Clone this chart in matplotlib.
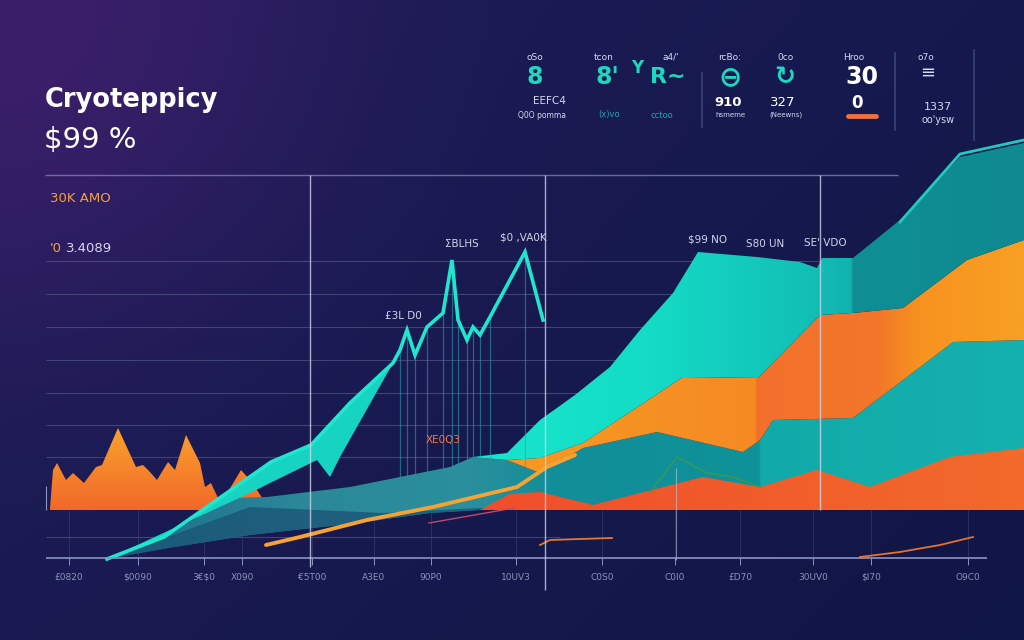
import numpy as np
import matplotlib
matplotlib.use("Agg")
import matplotlib.pyplot as plt
from matplotlib.patches import Polygon
from matplotlib.colors import LinearSegmentedColormap, to_rgb

plt.rcParams["font.family"] = ["DejaVu Sans"]

# x = trading day (0..102.4), y = price level (k$); baseline at 0
# left orange spike series
SPIKE_X = [5.0, 5.3, 5.7, 6.6, 7.3, 8.4, 9.6, 10.2, 11.8, 13.6, 14.3, 15.0, 15.7,
           16.8, 17.5, 18.6, 20.0, 20.5, 21.1, 21.8, 22.3, 22.9, 24.1, 25.0, 25.7, 27.0]
SPIKE_Y = [0.5, 10, 11.75, 7.5, 9.25, 6.75, 10.75, 11.25, 20.5, 10.75, 11.25, 9.5, 7.5,
           12, 10, 18.75, 11.75, 5.75, 6.75, 3, 0.5, 5, 10, 7.5, 5, 0]

# bright teal wedge (left)
WEDGE_TOP_X = [10.7, 16.4, 27.1, 31.1, 35.0, 39.3]
WEDGE_TOP_Y = [-12.25, -6.75, 12, 16.25, 26.75, 36.75]
WEDGE_BOT_X = [10.7, 25.0, 27.0, 31.7, 33.0, 34.0, 39.3]
WEDGE_BOT_Y = [-12.25, 4.25, 6.75, 12.5, 8.25, 13.25, 36.75]

# spiky price line
LINE_X = [39.3, 40.0, 40.7, 41.5, 42.7, 44.3, 45.2, 45.8, 46.7, 47.3, 48.0, 49.0, 52.5, 54.3]
LINE_Y = [36.75, 40, 45, 38.75, 45.75, 49.25, 62.5, 47.5, 42.5, 45.75, 43.75, 48.25, 64.5, 47.5]

# middle teal band
MID_TOP_X = [10.7, 16.4, 22.9, 26.7, 35.0, 45.0, 47.3, 50.7, 54.0, 58.3, 65.7, 74.3, 76.0, 77.3, 85.3, 95.3, 102.4]
MID_TOP_Y = [-12.25, -6.75, 3, 3.25, 5.75, 10.75, 13.25, 12.5, 9.25, 15.5, 19.5, 14.5, 17.5, 22.5, 23, 42, 42.5]
MID_BOT_X = [10.7, 16.8, 25.0, 35.7, 43.0, 48.0, 102.4]
MID_BOT_Y = [-12.25, -9.5, -6.25, -3.25, -0.75, 0, 0]
SHADE_X = [10.7, 25.0, 38.3, 48.0, 52.0]
SHADE_Y = [-12.25, 0.75, -0.75, 0.5, 0]

# orange layer top
ORANGE_TOP_X = [50.7, 54.0, 58.3, 68.3, 75.8, 82.0, 85.3, 90.3, 96.7, 102.4]
ORANGE_TOP_Y = [12.5, 13, 16.75, 33.25, 33, 48.75, 49.25, 50.5, 62.5, 67.5]

# teal mountain top
TOP_X = [47.3, 50.7, 54.0, 57.5, 61.0, 64.0, 67.3, 69.8, 75.7, 80.0, 81.7, 82.2, 85.3, 90.0, 96.0, 102.4]
TOP_Y = [13.25, 14.25, 22.5, 28.75, 35.75, 45, 54.25, 64.5, 63.25, 62, 60.5, 63, 63, 72.5, 88.25, 91.75]

# red bottom layer
RED_X = [48.0, 51.0, 54.0, 59.3, 70.3, 76.0, 81.7, 87.0, 95.0, 102.4]
RED_Y = [0, 4, 4.5, 1.25, 8.25, 5.75, 10, 5.75, 13.25, 15.5]

# lower trend lines
TREND_X = [26.6, 30.0, 36.7, 43.3, 51.7, 54.7, 57.5]
TREND_Y = [-8.75, -6.75, -2.5, 0.75, 5.75, 10.75, 13.75]
PINK_X = [42.9, 51.4]
PINK_Y = [-3.25, 0.5]
LOW1_X = [54.0, 55.0, 58.0, 61.2]
LOW1_Y = [-8.75, -7.5, -7.25, -7.0]
LOW2_X = [86.0, 90.0, 94.0, 97.3]
LOW2_Y = [-11.75, -10.5, -8.75, -6.75]
GREEN_X = [65.0, 67.7, 70.7, 73.3, 76.0]
GREEN_Y = [4.5, 13.25, 9.25, 8.25, 5.75]
EDGE_X = [90.0, 96.0, 102.4]
EDGE_Y = [72.0, 89.0, 92.5]

GRID_LEVELS = [13.25, 21.25, 29.25, 37.5, 45.75, 54, 62.25]
TICK_X = [6.9, 13.8, 20.4, 24.2, 31.2, 37.4, 43.1, 51.6, 60.2, 67.5, 74.0, 81.3, 87.1, 96.8]
TICK_LABELS = ["£0820", "$0090", "3€$0", "X090", "€5T00", "A3E0", "90P0",
               "10UV3", "C0S0", "C0I0", "£D70", "30UV0", "$I70", "O9C0"]
PEAK_LABELS = [(46.2, 66.5, "ΣBLHS"), (52.3, 68.0, "$0 ,VA0K"), (40.3, 48.5, "£3L D0"),
               (70.8, 67.5, "$99 NO"), (76.5, 66.5, "S80 UN"), (82.5, 66.8, "SE' VDO")]

XMAX, YMIN, YMAX = 102.4, -32.5, 127.5


def gradient_fill(ax, xs, ys, stops, zorder, vertical=False):
    poly = Polygon(np.column_stack([xs, ys]), closed=True, facecolor="none", edgecolor="none")
    ax.add_patch(poly)
    if vertical:
        pos = [(v - YMIN) / (YMAX - YMIN) for v, _ in stops]
        grad = np.linspace(0, 1, 512).reshape(-1, 1)
    else:
        pos = [v / XMAX for v, _ in stops]
        grad = np.linspace(0, 1, 512).reshape(1, -1)
    pos = [0.0] + pos + [1.0]
    cols = [stops[0][1]] + [c for _, c in stops] + [stops[-1][1]]
    cmap = LinearSegmentedColormap.from_list("g", list(zip(pos, cols)))
    im = ax.imshow(grad, cmap=cmap, extent=[0, XMAX, YMIN, YMAX], aspect="auto",
                   origin="lower", zorder=zorder, interpolation="bilinear")
    im.set_clip_path(poly)


def poly(top_x, top_y, bot_x, bot_y):
    return list(top_x) + list(bot_x)[::-1], list(top_y) + list(bot_y)[::-1]


fig = plt.figure(figsize=(10.24, 6.4), dpi=100)

# background
bg = fig.add_axes([0, 0, 1, 1])
h, w = 320, 512
yy, xx = np.mgrid[0:1:h * 1j, 0:1:w * 1j]
navy = np.array(to_rgb("#1b1c55"))
purple = np.array(to_rgb("#3c1f6b"))
deep = np.array(to_rgb("#0d1440"))
wp = np.exp(-((xx / 0.3) ** 2 + (yy / 0.5) ** 2))[..., None]
wd = np.clip(0.55 * xx + 0.35 * yy - 0.15, 0, 1)[..., None]
img = navy * (1 - wd) + deep * wd
img = img * (1 - wp) + purple * wp
bg.imshow(img, extent=[0, 1, 0, 1], aspect="auto", origin="upper")
bg.axis("off")

ax = fig.add_axes([0, 0, 1, 1])
ax.set_facecolor("none")

# grid
ax.hlines(GRID_LEVELS, 4.6, 90, color="#5a6090", lw=0.8, alpha=0.6, zorder=1)
ax.hlines(83.75, 4.5, 89.8, color="#8a8fb8", lw=1.0, alpha=0.7, zorder=1)
ax.hlines(-6.75, 4.6, 56, color="#5a6090", lw=0.8, alpha=0.6, zorder=1)
ax.vlines(TICK_X, -12, 0, color="#3e4878", lw=0.6, alpha=0.6, zorder=1)

# left orange spikes
gradient_fill(ax, SPIKE_X + [SPIKE_X[-1], SPIKE_X[0]], SPIKE_Y + [0, 0],
              [(0, "#f2682a"), (20, "#f8a12c")], 2, vertical=True)

# middle teal band
mx, my = poly(MID_TOP_X, MID_TOP_Y, MID_BOT_X, MID_BOT_Y)
gradient_fill(ax, mx, my, [(10, "#1f6c88"), (30, "#2a8899"), (47, "#2b8f9d"), (55, "#128e98"),
                           (75.9, "#0f9299"), (76.1, "#12aaa8"), (102.4, "#15b1ae")], 3)
shx, shy = poly(SHADE_X, SHADE_Y, MID_BOT_X[:6], MID_BOT_Y[:6])
ax.fill(shx, shy, color="#1b5878", alpha=0.85, lw=0, zorder=3.2)

# left wedge
wx, wy = poly(WEDGE_TOP_X, WEDGE_TOP_Y, WEDGE_BOT_X, WEDGE_BOT_Y)
ax.fill(wx, wy, color="#17d4c2", lw=0, zorder=4)

# orange layer
ox, oy = poly(ORANGE_TOP_X, ORANGE_TOP_Y, MID_TOP_X[7:], MID_TOP_Y[7:])
gradient_fill(ax, ox, oy, [(50, "#f79a22"), (75.7, "#f58a24"), (75.9, "#f2702c"),
                           (88, "#f3762a"), (92, "#f7921f"), (102.4, "#f8a024")], 4)

# teal mountain
tx, ty = poly(TOP_X, TOP_Y, [47.3] + ORANGE_TOP_X, [13.25] + ORANGE_TOP_Y)
gradient_fill(ax, tx, ty, [(47, "#19e6cd"), (65, "#14dcc6"), (81, "#12bfb6"), (85.2, "#11b2ae"),
                           (85.4, "#0f8f94"), (102.4, "#0e8a90")], 5)
ax.plot(EDGE_X, EDGE_Y, color="#22c9bf", lw=2, zorder=6)

# red bottom
rx, ry = poly(RED_X, RED_Y, [RED_X[0], RED_X[-1]], [0, 0])
gradient_fill(ax, rx, ry, [(48, "#f04e2a"), (102.4, "#f26a2c")], 6)

# spiky line + drop lines
ax.vlines(LINE_X[1:-1], np.interp(LINE_X[1:-1], MID_TOP_X, MID_TOP_Y), LINE_Y[1:-1],
          color="#2aa6b8", lw=0.9, alpha=0.55, zorder=5)
ax.plot(WEDGE_TOP_X + LINE_X[1:], WEDGE_TOP_Y + LINE_Y[1:], color="#1fe6cf", lw=2.6,
        solid_joinstyle="miter", zorder=7)

# lower lines
ax.plot(TREND_X, TREND_Y, color="#f4a334", lw=2.8, zorder=7, solid_capstyle="round")
ax.plot(PINK_X, PINK_Y, color="#c04a6a", lw=1, zorder=7)
ax.plot(LOW1_X, LOW1_Y, color="#e07a30", lw=1.3, zorder=7)
ax.plot(LOW2_X, LOW2_Y, color="#e8702a", lw=1.3, zorder=7)
ax.plot(GREEN_X, GREEN_Y, color="#3a9a50", lw=1, zorder=7)

# baseline and axis
ax.hlines(-12, 4.6, 98.7, color="#8a94c4", lw=1.2, zorder=7)
ax.vlines(TICK_X, -12, -13.8, color="#8a94c4", lw=0.7, zorder=7)
ax.vlines([31.0, 54.5], [-14.25, -20], 83.75, color="#d0d4ea", lw=1, alpha=0.8, zorder=8)
ax.vlines(82.0, 0, 83.75, color="#d0d4ea", lw=1, alpha=0.8, zorder=8)
ax.vlines(67.6, -12.5, 10.5, color="#c0c4dc", lw=0.8, alpha=0.6, zorder=8)
ax.vlines(4.6, 0, 6, color="#8a94c4", lw=0.8, zorder=8)

for x, lab in zip(TICK_X, TICK_LABELS):
    ax.text(x, -16.75, lab, color="#8a92b8", fontsize=6.5, ha="center", va="center")
for x, y, lab in PEAK_LABELS:
    ax.text(x, y, lab, color="#d0d4ea", fontsize=7.5, ha="center", va="center", zorder=9)
ax.text(44.3, 17.5, "XE0Q3", color="#f07a40", fontsize=7.5, ha="center", va="center", zorder=9)

ax.set_xlim(0, XMAX)
ax.set_ylim(YMIN, YMAX)
ax.axis("off")


def ft(x, y, s, **kw):
    fig.text(x / 1024, 1 - y / 640, s, ha=kw.pop("ha", "center"), va=kw.pop("va", "center"), **kw)


# title block
ft(45, 100, "Cryotеppicy", ha="left", color="white", fontsize=18.5, fontweight="bold")
ft(44, 140, "$99 %", ha="left", color="white", fontsize=21)
ft(50, 198, "30K AMO", ha="left", color="#f2a040", fontsize=9.5)
ft(50, 248, "'0", ha="left", color="#f2a040", fontsize=9.5)
ft(66, 248, "3.4089", ha="left", color="#d8d6f0", fontsize=9.5)

# header widgets
teal = "#1fd6bf"
light = "#d4d8ee"
for x, lab in [(535, "oSo"), (604, "tcon"), (671, "a4/'"), (730, "rcBo:"),
               (786, "0co"), (854, "Hroo"), (926, "o7o")]:
    ft(x, 57, lab, color=light, fontsize=6.5)
ft(535, 77, "8", color=teal, fontsize=17, fontweight="bold")
ft(607, 77, "8'", color=teal, fontsize=17, fontweight="bold")
ft(637, 68, "Y", color=teal, fontsize=12, fontweight="bold")
ft(668, 77, "R~", color=teal, fontsize=16, fontweight="bold")
ft(730, 77, "⊖", color=teal, fontsize=20, fontweight="bold")
ft(785, 77, "↻", color=teal, fontsize=18, fontweight="bold")
ft(862, 77, "30", color="white", fontsize=17, fontweight="bold")
ft(928, 73, "≡", color=light, fontsize=13)
ft(549, 101, "EEFC4", color=light, fontsize=7.5)
ft(728, 103, "910", color="white", fontsize=9.5, fontweight="bold")
ft(783, 103, "327", color="white", fontsize=9.5)
ft(857, 103, "0", color="white", fontsize=12, fontweight="bold")
ft(938, 107, "1337", color=light, fontsize=8)
ft(542, 115, "Q0O pomma", color=light, fontsize=5.5)
ft(609, 115, "(x)vo", color="#1aa9b0", fontsize=6)
ft(662, 115, "cctoo", color="#1aa9b0", fontsize=6)
ft(730, 115, "hsmeme", color=light, fontsize=5)
ft(786, 115, "(Neewns)", color=light, fontsize=5)
ft(938, 120, "oo'ysw", color=light, fontsize=7)
fig.add_artist(plt.Line2D([848 / 1024, 876 / 1024], [1 - 116 / 640] * 2, color="#f0703a",
                          lw=3.5, solid_capstyle="round"))
for x, y0, y1 in [(702, 73, 127), (895, 53, 130), (974, 50, 140)]:
    fig.add_artist(plt.Line2D([x / 1024] * 2, [1 - y0 / 640, 1 - y1 / 640], color="#34457a", lw=1.2))

fig.savefig("out.png", dpi=100)
